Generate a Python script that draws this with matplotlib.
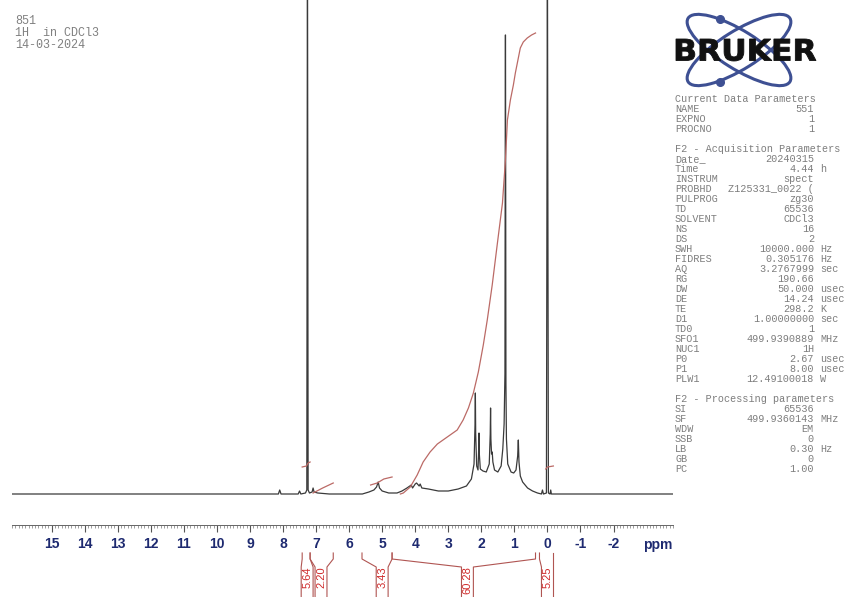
import matplotlib.pyplot as plt
from matplotlib.patches import Ellipse, PathPatch
from matplotlib.textpath import TextPath
from matplotlib.font_manager import FontProperties
from matplotlib.ticker import MultipleLocator
from matplotlib.transforms import Affine2D

# ---- data ----
title_lines = ["851", "1H  in CDCl3", "14-03-2024"]

# spectrum trace: chemical shift (ppm) and intensity (arbitrary units, baseline = 0)
spec_ppm = [16.2, 8.14, 8.10, 8.06, 7.54, 7.50, 7.46, 7.32, 7.28, 7.262, 7.258, 7.24,
            7.20, 7.12, 7.09, 7.06, 6.95, 6.60, 5.60, 5.40, 5.25, 5.17, 5.12, 5.08,
            5.00, 4.80, 4.55, 4.40, 4.25, 4.12, 4.08, 4.00, 3.96, 3.88, 3.85, 3.80,
            3.60, 3.30, 3.00, 2.70, 2.45, 2.30, 2.22, 2.19, 2.18, 2.17, 2.14, 2.10,
            2.08, 2.07, 2.06, 2.03, 1.95, 1.85, 1.76, 1.73, 1.72, 1.71, 1.69, 1.67,
            1.65, 1.60, 1.50, 1.40, 1.35, 1.31, 1.285, 1.272, 1.268, 1.255, 1.24, 1.20,
            1.10, 1.02, 0.95, 0.90, 0.88, 0.86, 0.82, 0.75, 0.60, 0.45, 0.30, 0.18,
            0.15, 0.12, 0.03, 0.002, -0.002, -0.03, -0.08, -0.10, -0.12, -3.8]
spec_int = [0, 0, 4, 0, 0, 3, 0, 1, 4, 520, 520, 4,
            1, 2, 6, 2, 1, 0, 0, 2, 4, 7, 12, 6,
            3, 1, 1, 3, 6, 9, 6, 10, 11, 8, 10, 6,
            5, 3, 3, 5, 8, 15, 30, 70, 101, 60, 28, 24,
            45, 61, 40, 25, 23, 22, 30, 60, 86, 55, 40, 42,
            32, 24, 22, 28, 45, 70, 120, 459, 459, 110, 55, 30,
            22, 21, 24, 38, 54, 32, 18, 12, 6, 3, 1, 0,
            4, 0, 1, 520, 520, 1, 0, 4, 0, 0]

# integral traces (ppm, cumulative height)
integral_ppm = [
    [7.42, 7.29, 7.26, 7.24, 7.18],
    [7.09, 6.80, 6.48],
    [5.35, 5.15, 4.95, 4.70],
    [4.45, 4.36, 4.15, 3.94, 3.76, 3.55, 3.33, 3.03, 2.73, 2.55, 2.39, 2.24, 2.09,
     1.94, 1.82, 1.67, 1.52, 1.36, 1.27, 1.21, 1.12, 1.03, 0.97, 0.88, 0.82, 0.73,
     0.61, 0.48, 0.36],
    [0.05, 0.00, -0.18],
]
integral_height = [
    [27, 28, 30, 31, 32],
    [1, 6, 11],
    [9, 11, 15, 17],
    [0, 1, 7, 19, 32, 42, 50, 57, 64, 74, 86, 101, 122,
     149, 174, 209, 249, 291, 334, 374, 394, 409, 421, 436, 446, 452,
     456, 459, 461],
    [25, 27, 28],
]

# integration regions and their values
region_left = [7.42, 7.18, 5.61, 4.70, 0.24]
region_right = [7.18, 6.48, 4.70, 0.36, -0.18]
region_label = [7.27, 6.85, 5.00, 2.42, 0.00]
integral_values = ["5.64", "2.20", "3.43", "60.28", "5.25"]

tick_ppm = list(range(15, -3, -1))
tick_labels = [str(t) for t in tick_ppm]

param_names = ["Current Data Parameters", "NAME", "EXPNO", "PROCNO", "",
               "F2 - Acquisition Parameters", "Date_", "Time", "INSTRUM", "PROBHD",
               "PULPROG", "TD", "SOLVENT", "NS", "DS", "SWH", "FIDRES", "AQ", "RG",
               "DW", "DE", "TE", "D1", "TD0", "SFO1", "NUC1", "P0", "P1", "PLW1", "",
               "F2 - Processing parameters", "SI", "SF", "WDW", "SSB", "LB", "GB", "PC"]
param_values = ["", "551", "1", "1", "",
                "", "20240315", "4.44", "spect", "Z125331_0022 (",
                "zg30", "65536", "CDCl3", "16", "2", "10000.000", "0.305176", "3.2767999", "190.66",
                "50.000", "14.24", "298.2", "1.00000000", "1", "499.9390889", "1H", "2.67", "8.00",
                "12.49100018", "",
                "", "65536", "499.9360143", "EM", "0", "0.30", "0", "1.00"]
param_units = ["", "", "", "", "",
               "", "", "h", "", "",
               "", "", "", "", "", "Hz", "Hz", "sec", "",
               "usec", "usec", "K", "sec", "", "MHz", "", "usec", "usec", "W", "",
               "", "", "MHz", "", "", "Hz", "", ""]

# ---- figure ----
W, H = 849, 597
fig = plt.figure(figsize=(W / 100, H / 100), dpi=100)
fig.patch.set_facecolor("white")


def px_axes(x0, y0, x1, y1):
    return fig.add_axes([x0 / W, 1 - y1 / H, (x1 - x0) / W, (y1 - y0) / H])


def fig_text(x, y, s, **kw):
    return fig.text(x / W, 1 - y / H, s, **kw)


# spectrum
ax = px_axes(12, 0, 673, 525)
ax.patch.set_alpha(0)
ax.plot(spec_ppm, spec_int, color="#3a3a3a", lw=0.9)
for xs, ys in zip(integral_ppm, integral_height):
    ax.plot(xs, ys, color="#bb6a66", lw=0.9)
ax.set_xlim(16.2, -3.8)
ax.set_ylim(-31, 494)
for s in ["top", "left", "right"]:
    ax.spines[s].set_visible(False)
ax.spines["bottom"].set_color("#666666")
ax.spines["bottom"].set_linewidth(0.7)
ax.set_yticks([])
ax.set_xticks(tick_ppm + [-3.33])
ax.set_xticklabels(tick_labels + ["ppm"])
ax.xaxis.set_minor_locator(MultipleLocator(0.1))
ax.tick_params(axis="x", which="major", length=5, width=0.8, color="#555555",
               pad=4, labelsize=10, labelcolor="#1e2a70")
ax.tick_params(axis="x", which="minor", length=2.5, width=0.5, color="#777777")
ax.xaxis.get_major_ticks()[-1].tick1line.set_visible(False)
for lbl in ax.get_xticklabels():
    lbl.set_fontweight("bold")
    lbl.set_family("Liberation Sans")

# integral brackets below the ruler
ai = px_axes(12, 545, 673, 597)
ai.set_xlim(16.2, -3.8)
ai.set_ylim(597, 545)
ai.axis("off")
hw = 0.18
for l, r, c, v in zip(region_left, region_right, region_label, integral_values):
    ai.plot([l, l, c + hw, c + hw], [553, 559, 567, 600], color="#b05552", lw=0.8)
    ai.plot([r, r, c - hw, c - hw], [553, 559, 567, 600], color="#b05552", lw=0.8)
    ai.text(c, 566, v, rotation=90, ha="center", va="top", fontsize=8,
            color="#d02a2a", family="Liberation Sans")

# title block
mono = "Liberation Mono"
for i, line in enumerate(title_lines):
    fig_text(15, 21 + 12 * i, line, family=mono, fontsize=8.5, color="#808080",
             va="center", ha="left")

# parameter panel
for i, (n, v, u) in enumerate(zip(param_names, param_values, param_units)):
    y = 99 + 10 * i
    if n:
        fig_text(675, y, n, family=mono, fontsize=7.3, color="#7d7d7d", va="center", ha="left")
    if v:
        fig_text(814, y, v, family=mono, fontsize=7.3, color="#7d7d7d", va="center", ha="right")
    if u:
        fig_text(820, y, u, family=mono, fontsize=7.3, color="#7d7d7d", va="center", ha="left")

# Bruker logo
lg = px_axes(660, 0, 849, 95)
lg.set_xlim(660, 849)
lg.set_ylim(95, 0)
lg.axis("off")
for ang in (32, -32):
    lg.add_patch(Ellipse((739, 50), 120, 38, angle=ang, fill=False,
                         edgecolor="#3e5093", lw=2.2, zorder=1))
lg.plot([720, 720], [19, 82], "o", color="#3e5093", ms=5.5, zorder=3)
tp = TextPath((0, 0), "BRUKER", size=1,
              prop=FontProperties(family="DejaVu Sans", weight="bold"))
ext = tp.get_extents()
tr = Affine2D().translate(-ext.x0, -ext.y0).scale(140 / ext.width, -22 / ext.height).translate(676, 61)
lg.add_patch(PathPatch(tr.transform_path(tp), facecolor="#111111", edgecolor="#111111",
                       lw=0.6, zorder=2))

fig.savefig("out.png", dpi=100)
